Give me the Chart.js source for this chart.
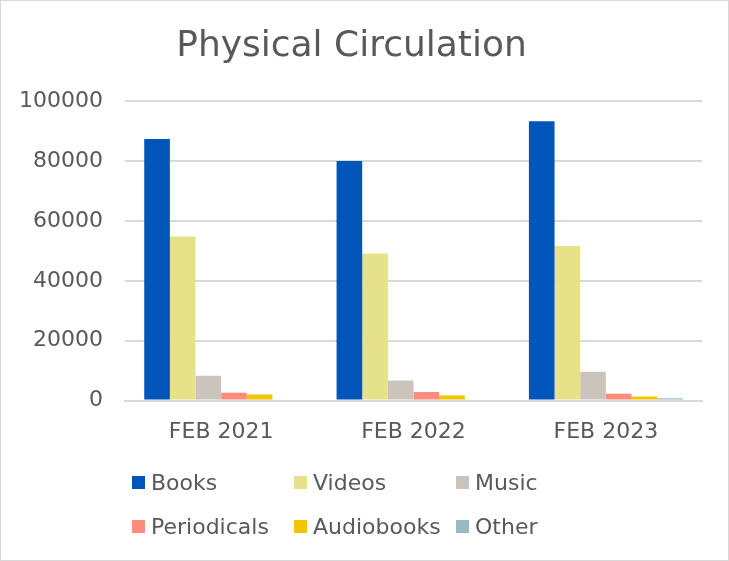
<!DOCTYPE html>
<html>
<head>
<meta charset="utf-8">
<script src="https://cdn.jsdelivr.net/npm/chart.js"></script>
<style>
	html, body { margin: 0; padding: 0; background: #fff; }
	#wrap {
		position: relative;
		width: 727px;
		height: 559px;
		border: 1px solid #d9d9d9;
	}
	#chart { position: absolute; left: 0; top: 0; }
	#legend {
		position: absolute;
		left: 131px;
		top: 466px;
		display: grid;
		grid-template-columns: 162px 162px 130px;
		grid-auto-rows: 30px;
		row-gap: 14px;
		font-family: "DejaVu Sans", sans-serif;
		font-size: 22px;
		color: #595959;
	}
	.item { display: flex; align-items: center; white-space: nowrap; }
	.box { width: 13px; height: 13px; margin-right: 6px; flex: none; }
</style>
</head>
<body>
<div id="wrap">
	<canvas id="chart" width="727" height="559"></canvas>
	<div id="legend"></div>
</div>
<script>
const categories = ["FEB 2021", "FEB 2022", "FEB 2023"];
const seriesNames = ["Books", "Videos", "Music", "Periodicals", "Audiobooks", "Other"];
const books = [87400, 80000, 93300];
const videos = [54800, 49100, 51600];
const music = [8300, 6700, 9600];
const periodicals = [2600, 2900, 2300];
const audiobooks = [2000, 1700, 1400];
const other = [400, 400, 750];
const colors = ["#0055b8", "#e6e28a", "#cbc4bd", "#ff8b7b", "#f2c500", "#96babd"];

const values = [books, videos, music, periodicals, audiobooks, other];
const textColor = "#595959";
const fontName = "DejaVu Sans";

const datasets = seriesNames.map(function (name, i) {
	return {
		label: name,
		data: values[i],
		backgroundColor: colors[i],
		borderWidth: 0,
		barPercentage: 1,
		categoryPercentage: 0.8
	};
});

const chart = new Chart(document.getElementById('chart'), {
	type: 'bar',
	data: { labels: categories, datasets: datasets },
	options: {
		responsive: false,
		animation: false,
		layout: { padding: { left: 0, right: 26, top: 24, bottom: 105 } },
		plugins: {
			legend: { display: false },
			tooltip: { enabled: false },
			title: {
				display: true,
				text: "Physical Circulation",
				color: textColor,
				font: { family: fontName, size: 36, weight: 'normal' },
				padding: { top: 0, bottom: 33 }
			}
		},
		scales: {
			x: {
				grid: { display: false },
				border: { color: "#d9d9d9", width: 2 },
				ticks: {
					color: textColor,
					font: { family: fontName, size: 22 },
					padding: 10
				}
			},
			y: {
				min: 0,
				max: 100000,
				grid: { color: "#d9d9d9", lineWidth: 2, drawTicks: false },
				border: { display: false },
				afterFit: function (scale) { scale.width = 124; },
				ticks: {
					stepSize: 20000,
					color: textColor,
					font: { family: fontName, size: 22 },
					padding: 22,
					callback: function (v) { return String(v); }
				}
			}
		}
	}
});

// legend laid out in fixed columns, as in the original
const legend = document.getElementById('legend');
chart.data.datasets.forEach(function (ds) {
	const item = document.createElement('div');
	item.className = 'item';
	item.innerHTML = '<span class="box" style="background:' + ds.backgroundColor + '"></span>' + ds.label;
	legend.appendChild(item);
});
</script>
</body>
</html>
